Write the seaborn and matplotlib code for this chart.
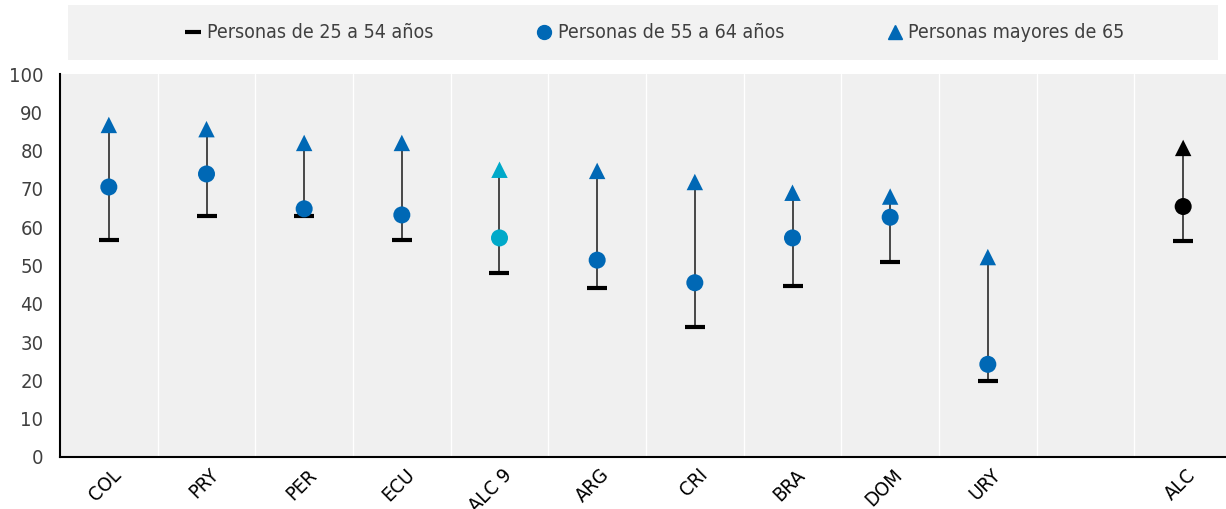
import numpy as np
import matplotlib
matplotlib.use("Agg")
import matplotlib.pyplot as plt
import matplotlib.transforms as mtransforms
from matplotlib.patches import Rectangle
from matplotlib.lines import Line2D
import seaborn as sns

# Datos
paises = ["COL", "PRY", "PER", "ECU", "ALC 9", "ARG", "CRI", "BRA", "DOM", "URY", "", "ALC"]
grupo = ["pais", "pais", "pais", "pais", "alc9", "pais", "pais", "pais", "pais", "pais", None, "alc"]
edad_25_54 = [56.7, 62.8, 62.8, 56.6, 48.1, 44.2, 34.0, 44.7, 51.0, 19.9, np.nan, 56.5]
edad_55_64 = [70.5, 73.9, 64.8, 63.2, 57.2, 51.4, 45.5, 57.2, 62.6, 24.2, np.nan, 65.4]
edad_65 = [86.7, 85.6, 82.0, 82.0, 75.0, 74.7, 71.8, 69.0, 68.0, 52.2, np.nan, 80.7]

colores = {"pais": "#0068b5", "alc9": "#00a9c9", "alc": "#000000"}

sns.set_style("white")
plt.rcParams["font.family"] = ["DejaVu Sans"]
plt.rcParams["font.stretch"] = "condensed"

fig = plt.figure(figsize=(12.26, 5.09), dpi=100)
ax = fig.add_axes([60 / 1226, 52 / 509, 1172 / 1226, 383 / 509])
ax.set_facecolor("#f0f0f0")

pos = np.arange(len(paises))
mask = [g is not None for g in grupo]
pos_ok = pos[mask]
grp_ok = [g for g in grupo if g is not None]
v1 = np.array(edad_25_54)[mask]
v2 = np.array(edad_55_64)[mask]
v3 = np.array(edad_65)[mask]

# lineas verticales (rango)
ax.vlines(pos_ok, v1, v3, color="#3a3a3a", lw=1.3, zorder=2)

# separadores blancos
for b in np.arange(0.5, len(paises) - 0.5, 1):
    ax.axvline(b, color="white", lw=1, zorder=1)

ax.plot(pos_ok, v1, ls="none", marker="_", markersize=14, markeredgewidth=3,
        color="black", zorder=3)
sns.scatterplot(x=pos_ok, y=v2, hue=grp_ok, palette=colores, marker="o", s=150,
                linewidth=0, legend=False, ax=ax, zorder=4)
sns.scatterplot(x=pos_ok, y=v3, hue=grp_ok, palette=colores, marker="^", s=140,
                linewidth=0, legend=False, ax=ax, zorder=4)

ax.set_xlim(-0.5, len(paises) - 0.5)
ax.set_ylim(0, 100)
ax.set_yticks(range(0, 101, 10))
ax.set_xticks(pos)
ax.set_xticklabels(paises, rotation=45, ha="right", va="top", rotation_mode="anchor", fontsize=14.5)
ax.set_xticks(np.arange(0.5, len(paises) - 0.5, 1), minor=True)
ax.tick_params(axis="x", which="major", length=0, pad=6)
ax.tick_params(axis="x", which="minor", direction="in", length=6, width=1.5, color="black")
ax.tick_params(axis="y", direction="in", length=6, width=1.5, color="black",
               labelsize=14.5, labelcolor="#404040", pad=12)
offset = mtransforms.ScaledTranslation(3 / 100, 0, fig.dpi_scale_trans)
for lab in ax.get_xticklabels():
    lab.set_color("black")
    lab.set_transform(lab.get_transform() + offset)

for s in ["top", "right"]:
    ax.spines[s].set_visible(False)
for s in ["left", "bottom"]:
    ax.spines[s].set_color("black")
    ax.spines[s].set_linewidth(1.5)

# Leyenda
fig.patches.append(Rectangle((68 / 1226, 1 - 60 / 509), 1150 / 1226, 55 / 509,
                             transform=fig.transFigure, facecolor="#f2f2f2",
                             edgecolor="none", zorder=0))
handles = [
    Line2D([], [], ls="none", marker="_", markersize=11, markeredgewidth=3, color="black"),
    Line2D([], [], ls="none", marker="o", markersize=10, color="#0068b5"),
    Line2D([], [], ls="none", marker="^", markersize=10, color="#0068b5"),
]
etiquetas = ["Personas de 25 a 54 años", "Personas de 55 a 64 años", "Personas mayores de 65"]
fig.legend(handles, etiquetas, loc="center", bbox_to_anchor=(655 / 1226, 1 - 33 / 509),
           ncol=3, frameon=False, fontsize=14, handlelength=0.8, handletextpad=0.3,
           columnspacing=5.3, labelcolor="#404040")

fig.savefig("out.png", dpi=100)
